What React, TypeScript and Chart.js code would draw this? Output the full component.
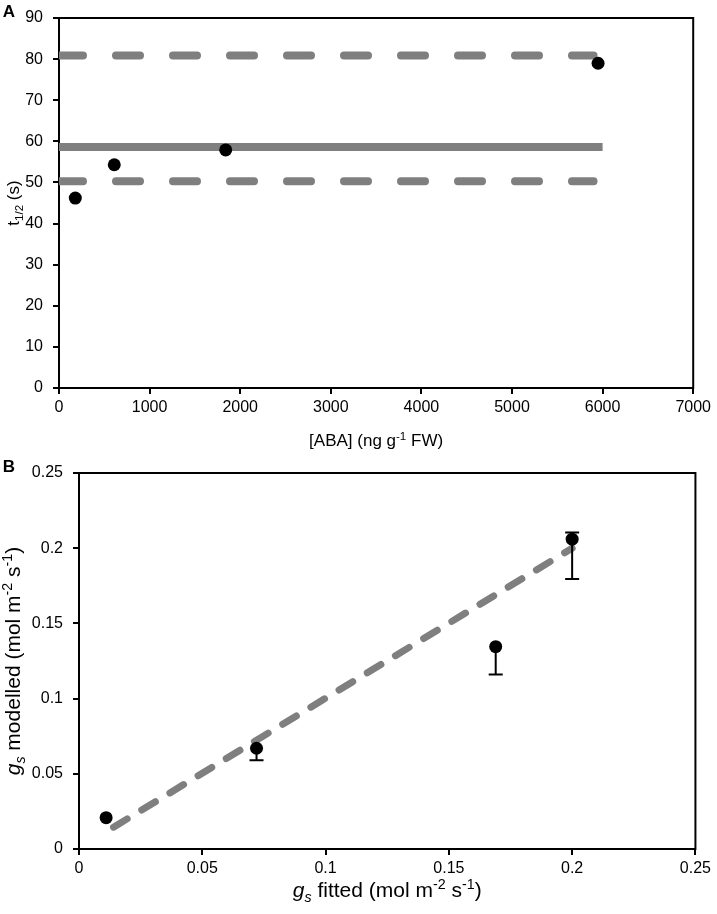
import React, { useEffect, useRef } from 'react';
import { Chart, registerables } from 'chart.js';

Chart.register(...registerables);

const FONT = '"Liberation Sans", Arial, Helvetica, sans-serif';
const GREY = '#7f7f7f';

// ---------- Panel A data ----------
const abaConc = [180, 610, 1840, 5950];
const halfTime = [46.2, 54.3, 57.9, 79.0];
const meanLineX = [0, 6000];
const meanLineY = [58.6, 58.6];
const upperLineX = [0, 5900];
const upperLineY = [80.9, 80.9];
const lowerLineX = [0, 5900];
const lowerLineY = [50.3, 50.3];
const ticksAX = [0, 1000, 2000, 3000, 4000, 5000, 6000, 7000];
const ticksAY = [0, 10, 20, 30, 40, 50, 60, 70, 80, 90];

// ---------- Panel B data ----------
const gsFitted = [0.011, 0.072, 0.169, 0.2];
const gsModelled = [0.0208, 0.067, 0.1345, 0.206];
const errMinus = [0, 0.008, 0.0185, 0.0265];
const errPlus = [0, 0, 0, 0.0044];
const fitLineX = [0.014, 0.2];
const fitLineY = [0.0145, 0.2];
const ticksBX = [0, 0.05, 0.1, 0.15, 0.2, 0.25];
const ticksBY = [0, 0.05, 0.1, 0.15, 0.2, 0.25];

type Seg = { t: string; it?: boolean; sub?: boolean; sup?: boolean };

const titleAX: Seg[] = [{ t: '[ABA] (ng g' }, { t: '-1', sup: true }, { t: ' FW)' }];
const titleAY: Seg[] = [{ t: 't' }, { t: '1/2', sub: true }, { t: ' (s)' }];
const titleBX: Seg[] = [
  { t: 'g', it: true }, { t: 's', it: true, sub: true }, { t: ' fitted (mol m' },
  { t: '-2', sup: true }, { t: ' s' }, { t: '-1', sup: true }, { t: ')' },
];
const titleBY: Seg[] = [
  { t: 'g', it: true }, { t: 's', it: true, sub: true }, { t: ' modelled (mol m' },
  { t: '-2', sup: true }, { t: ' s' }, { t: '-1', sup: true }, { t: ')' },
];

function segFont(s: Seg, size: number) {
  const sz = s.sub || s.sup ? size * 0.68 : size;
  return `${s.it ? 'italic ' : ''}${sz}px ${FONT}`;
}

function drawRich(ctx: CanvasRenderingContext2D, segs: Seg[], cx: number, cy: number, size: number, rotate: boolean) {
  ctx.save();
  ctx.translate(cx, cy);
  if (rotate) ctx.rotate(-Math.PI / 2);
  ctx.fillStyle = '#000';
  ctx.textBaseline = 'alphabetic';
  ctx.textAlign = 'left';
  let total = 0;
  const widths = segs.map((s) => {
    ctx.font = segFont(s, size);
    const w = ctx.measureText(s.t).width;
    total += w;
    return w;
  });
  let x = -total / 2;
  const base = size * 0.36;
  segs.forEach((s, i) => {
    ctx.font = segFont(s, size);
    let dy = 0;
    if (s.sub) dy = size * 0.25;
    if (s.sup) dy = -size * 0.38;
    ctx.fillText(s.t, x, base + dy);
    x += widths[i];
  });
  ctx.restore();
}

function fmt(v: number) {
  return String(Number(v.toFixed(3)));
}

function makeScale(ticks: number[], fontSize: number, fitSize: number, isY: boolean, padding: number) {
  return {
    type: 'linear',
    min: ticks[0],
    max: ticks[ticks.length - 1],
    afterBuildTicks: (scale: any) => {
      scale.ticks = ticks.map((v) => ({ value: v }));
    },
    afterFit: (scale: any) => {
      if (isY) scale.width = fitSize;
      else scale.height = fitSize;
    },
    border: { display: false },
    grid: {
      display: true,
      drawOnChartArea: false,
      drawTicks: true,
      tickLength: 6,
      color: '#000',
      lineWidth: 2,
    },
    ticks: {
      color: '#000',
      font: { family: FONT, size: fontSize, lineHeight: 1 },
      padding,
      maxRotation: 0,
      autoSkip: false,
      callback: (v: any) => fmt(Number(v)),
    },
  };
}

const framePlugin = {
  id: 'frame',
  beforeDatasetsDraw(chart: any) {
    const { ctx, chartArea: a } = chart;
    ctx.save();
    ctx.strokeStyle = '#000';
    ctx.lineWidth = 2;
    ctx.strokeRect(a.left, a.top, a.right - a.left, a.bottom - a.top);
    ctx.restore();
  },
};

function titlesPlugin(letter: string, xt: Seg[], yt: Seg[], size: number, xTitleY: number, yTitleX: number) {
  return {
    id: 'titles' + letter,
    afterDraw(chart: any) {
      const { ctx, chartArea: a } = chart;
      drawRich(ctx, xt, (a.left + a.right) / 2, xTitleY, size, false);
      drawRich(ctx, yt, yTitleX, (a.top + a.bottom) / 2, size, true);
      ctx.save();
      ctx.font = `bold 17px ${FONT}`;
      ctx.fillStyle = '#000';
      ctx.textBaseline = 'middle';
      ctx.textAlign = 'center';
      ctx.fillText(letter, 9, 12);
      ctx.restore();
    },
  };
}

const errorBarPlugin = {
  id: 'errbars',
  afterDatasetsDraw(chart: any) {
    const { ctx } = chart;
    const xs = chart.scales.x;
    const ys = chart.scales.y;
    ctx.save();
    ctx.strokeStyle = '#000';
    ctx.lineWidth = 2;
    gsFitted.forEach((xv, i) => {
      const px = xs.getPixelForValue(xv);
      const yc = ys.getPixelForValue(gsModelled[i]);
      const parts = [
        [errMinus[i], ys.getPixelForValue(gsModelled[i] - errMinus[i])],
        [errPlus[i], ys.getPixelForValue(gsModelled[i] + errPlus[i])],
      ];
      parts.forEach(([e, py]) => {
        if (e <= 0) return;
        ctx.beginPath();
        ctx.moveTo(px, yc);
        ctx.lineTo(px, py);
        ctx.moveTo(px - 7, py);
        ctx.lineTo(px + 7, py);
        ctx.stroke();
      });
    });
    ctx.restore();
  },
};

function pts(xs: number[], ys: number[]) {
  return xs.map((x, i) => ({ x, y: ys[i] }));
}

export default function App() {
  const refA = useRef<HTMLCanvasElement>(null);
  const refB = useRef<HTMLCanvasElement>(null);

  useEffect(() => {
    const dashedA = (xs: number[], ys: number[]) => ({
      data: pts(xs, ys),
      showLine: true,
      borderColor: GREY,
      borderWidth: 8,
      borderDash: [24, 33],
      borderCapStyle: 'round',
      pointRadius: 0,
      fill: false,
    });
    const chartA = new Chart(refA.current as HTMLCanvasElement, {
      type: 'scatter',
      data: {
        datasets: [
          {
            data: pts(abaConc, halfTime),
            pointRadius: 6.5,
            pointBackgroundColor: '#000',
            pointBorderWidth: 0,
            showLine: false,
          },
          dashedA(upperLineX, upperLineY),
          dashedA(lowerLineX, lowerLineY),
          {
            data: pts(meanLineX, meanLineY),
            showLine: true,
            borderColor: GREY,
            borderWidth: 8,
            borderCapStyle: 'butt',
            pointRadius: 0,
          },
        ] as any,
      },
      options: {
        animation: false,
        responsive: false,
        devicePixelRatio: 1,
        layout: { padding: { top: 8, right: 20, left: 0, bottom: 0 } },
        plugins: { legend: { display: false }, tooltip: { enabled: false } },
        scales: {
          x: makeScale(ticksAX, 16, 67, false, 6) as any,
          y: makeScale(ticksAY, 16, 59, true, 10) as any,
        },
      },
      plugins: [framePlugin, titlesPlugin('A', titleAX, titleAY, 17, 440, 13)],
    });

    const chartB = new Chart(refB.current as HTMLCanvasElement, {
      type: 'scatter',
      data: {
        datasets: [
          {
            data: pts(gsFitted, gsModelled),
            pointRadius: 6.5,
            pointBackgroundColor: '#000',
            pointBorderWidth: 0,
            showLine: false,
          },
          {
            data: pts(fitLineX, fitLineY),
            showLine: true,
            borderColor: GREY,
            borderWidth: 7,
            borderDash: [16, 17],
            borderCapStyle: 'round',
            pointRadius: 0,
          },
        ] as any,
      },
      options: {
        animation: false,
        responsive: false,
        devicePixelRatio: 1,
        layout: { padding: { top: 16, right: 20, left: 0, bottom: 0 } },
        plugins: { legend: { display: false }, tooltip: { enabled: false } },
        scales: {
          x: makeScale(ticksBX, 16, 65, false, 6) as any,
          y: makeScale(ticksBY, 16, 79, true, 10) as any,
        },
      },
      plugins: [framePlugin, errorBarPlugin, titlesPlugin('B', titleBX, titleBY, 21, 434, 12)],
    });

    return () => {
      chartA.destroy();
      chartB.destroy();
    };
  }, []);

  return (
    <div style={{ position: 'absolute', left: 0, top: 0, width: 717, height: 914, background: '#fff' }}>
      <canvas ref={refA} width={717} height={455} style={{ position: 'absolute', left: 0, top: 0 }} />
      <canvas ref={refB} width={717} height={459} style={{ position: 'absolute', left: 0, top: 455 }} />
    </div>
  );
}
